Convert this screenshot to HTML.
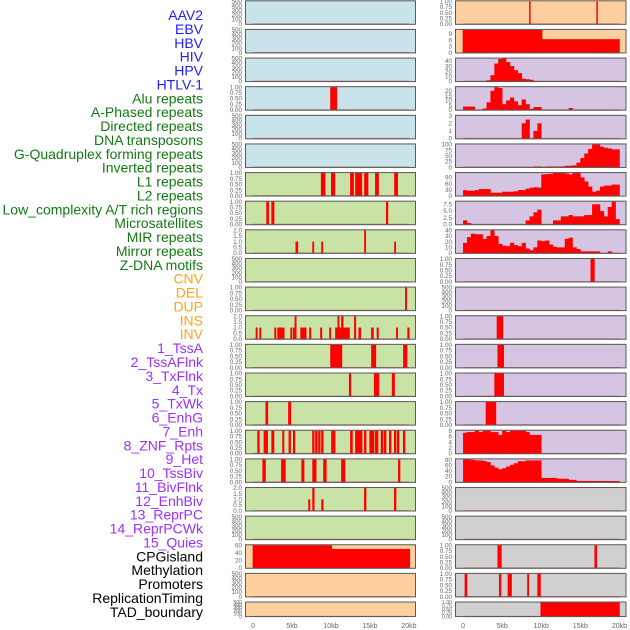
<!DOCTYPE html>
<html><head><meta charset="utf-8"><style>
html,body{margin:0;padding:0;background:#fff;width:630px;height:630px;overflow:hidden}
svg{display:block}
</style></head><body>
<svg id="chart" width="630" height="630" viewBox="0 0 630 630" xmlns="http://www.w3.org/2000/svg"></svg>
<script>
// ---------- data ----------
const labelNames = ["AAV2","EBV","HBV","HIV","HPV","HTLV-1","Alu repeats","A-Phased repeats","Directed repeats","DNA transposons","G-Quadruplex forming repeats","Inverted repeats","L1 repeats","L2 repeats","Low_complexity A/T rich regions","Microsatellites","MIR repeats","Mirror repeats","Z-DNA motifs","CNV","DEL","DUP","INS","INV","1_TssA","2_TssAFlnk","3_TxFlnk","4_Tx","5_TxWk","6_EnhG","7_Enh","8_ZNF_Rpts","9_Het","10_TssBiv","11_BivFlnk","12_EnhBiv","13_ReprPC","14_ReprPCWk","15_Quies","CPGisland","Methylation","Promoters","ReplicationTiming","TAD_boundary"];
const labelGroups = [0,0,0,0,0,0,1,1,1,1,1,1,1,1,1,1,1,1,1,2,2,2,2,2,3,3,3,3,3,3,3,3,3,3,3,3,3,3,3,4,4,4,4,4];
const xTicks = [0,5,10,15,20];
const xTickLabels = ["0","5kb","10kb","15kb","20kb"];
const BIN = 0.5; // kb per bin for binned tracks

// left column tracks (rows 0..21) : segments [startKb, endKb, value]
const leftSegs = [
 [],[],[],
 [[9.9,10.75,1]],
 [],[],
 [[8.7,9.25,1],[10,10.5,1],[12.45,12.9,1],[13.1,13.95,1],[14.25,14.75,1],[15.65,16.1,1],[18.1,18.55,1]],
 [[1.7,2.0,1],[2.35,2.7,1],[17.05,17.3,1]],
 [[5.45,5.75,1],[7.6,7.8,1],[8.75,8.95,1],[14.25,14.45,2],[18.1,18.3,1]],
 [],
 [[19.5,19.7,1]],
 [[0.34,0.55,1],[0.81,1.02,1],[2.73,2.94,1],[3.11,3.5,1],[3.5,4.0,1],[4.78,4.99,1],[5.12,5.33,1],[5.33,5.54,2],[6.06,6.3,1],[6.3,6.82,1],[7.2,7.42,1],[8.61,8.83,1],[9.77,9.98,1],[10.53,10.83,1],[10.83,11.04,2],[11.04,11.3,1],[11.3,11.56,2],[11.56,12.11,1],[12.11,12.37,1],[12.96,13.18,2],[13.52,13.82,1],[15.14,15.44,1],[15.86,16.08,1],[18.34,18.55,1],[19.79,20.04,1]],
 [[9.9,11.4,1],[15.15,15.75,1],[19.25,19.75,1]],
 [[12.3,12.55,1],[15.5,16.15,1],[17.8,18.15,1]],
 [[1.6,1.9,1],[4.5,4.85,1]],
 [[0.55,0.81,1],[1.36,1.88,1],[2.35,2.69,1],[3.75,3.97,1],[4.56,4.82,1],[5.12,5.37,1],[7.59,7.85,1],[7.97,8.23,1],[8.36,8.61,1],[8.74,9.0,1],[10.02,10.53,1],[12.45,12.75,1],[13.09,13.99,1],[14.24,14.5,1],[14.92,15.52,1],[15.65,16.03,1],[16.38,16.67,1],[16.8,17.06,1],[17.44,17.7,1],[18.08,18.34,1],[18.46,18.72,1],[19.23,19.49,1]],
 [[1.2,1.6,1],[3.6,4.15,1],[6.2,6.55,1],[7.6,8.1,1],[9.0,9.4,1],[11.3,11.8,1],[18.6,18.85,1]],
 [[7.08,7.3,1],[7.6,7.85,2],[8.75,9.0,1],[14.24,14.5,2],[18.08,18.34,2]],
 [],
 [[-0.05,10.1,60],[10.1,20.1,50]],
 [],[]
];
const leftTicks = [
 [0,100,200,300,400,500],[0,100,200,300,400,500],[0,100,200,300,400,500],[0,0.25,0.5,0.75,1],
 [0,100,200,300,400,500],[0,100,200,300,400,500],[0,0.25,0.5,0.75,1],[0,0.25,0.5,0.75,1],
 [0,0.5,1,1.5,2],[0,100,200,300,400,500],[0,0.25,0.5,0.75,1],[0,0.5,1,1.5,2],
 [0,0.25,0.5,0.75,1],[0,0.25,0.5,0.75,1],[0,0.25,0.5,0.75,1],[0,0.25,0.5,0.75,1],
 [0,0.25,0.5,0.75,1],[0,0.5,1,1.5,2],[0,100,200,300,400,500],[0,20,40,60],
 [0,100,200,300,400,500],[0,100,200,300,400,500]
];
const leftTickDigits = [0,0,0,2,0,0,2,2,1,0,2,1,2,2,2,2,2,1,0,0,0,0];
const leftBg = [0,0,0,0,0,0,1,1,1,1,1,1,1,1,1,1,1,1,1,2,2,2];

// right column binned series (0.5kb bins from 0 to 20kb)
const hivBins  = [0,0,0,0,0,0,2,12,35,44,45,38,30,22,16,5,4,3,0,0,0,0,0,0,0,0,0,0,0,0,0,0,0,0,0,0,0,0,0,0];
const aluBins  = [3.5,3.5,3.5,0,0,1.5,8,20,24,23,6,10,13,9,5,11,6,1,3,3,0,0,0,0,0,0,0,2,0,0,0,0,0,0,0,0,0,0,0,0];
const dirBins  = [0,0,0,0,0,0,0,0,0,0,0,0,0,0,0,2,2.5,0,1,2,0,0,0,0,0,0,0,0,0,0,0,0,0,0,0,0,0,0,0,0];
const gquadBins= [0,0,0,0,0,0,0,0,0,0,0,0,0,0,0,0,0,0,3,3,0,3,3,3,3,3,6,6,8,20,40,60,80,100,100,90,85,82,78,78];
const l1Bins   = [28,25,25,28,33,33,33,15,15,15,20,20,20,22,28,28,35,40,42,40,105,107,108,112,112,112,110,105,112,112,90,70,45,20,25,45,50,50,55,55];
const lowBins  = [1.5,0.5,0,0,0,0,0,0,0,0,0,0,0,0,0,0,1.5,3,4.5,5.5,0,0,0,1.5,1.5,3,3,3.5,3,3,3,3.5,3.5,7.5,7.5,5,3,6.5,8.5,2];
const mirBins  = [18,28,34,33,33,25,30,40,30,16,13,12,18,14,12,18,8,5,10,22,21,22,15,11,10,10,25,27,10,7,3,3,3,3,3,0,0,3,0,0];
const enhBins  = [7.3,7.5,7.5,8,7.5,8,8,7.5,7.5,6.5,8,7.5,8,8,8,8,7.5,6.5,6.5,6.5,0,0,0,0,0,0,0,0,0,0,0,0,0,0,0,0,0,0,0,0];
const znfBins  = [82,82,80,78,78,76,72,60,52,46,50,56,62,68,75,75,78,78,78,78,15,15,15,15,12,12,12,8,8,4,4,4,4,4,4,4,4,4,4,4];

const rightSegs = [
 [[8.45,8.6,1],[17.05,17.2,1]],
 [[-0.05,10.1,11],[10.1,20,6.5]],
 "hiv","alu","dir","gquad","l1","low","mir",
 [[16.3,16.8,1]],
 [],
 [[4.3,5.1,1]],
 [[4.4,5.2,1]],
 [[4.0,5.2,1]],
 [[2.9,4.2,1]],
 "enh","znf",
 [],[],
 [[4.4,4.9,1],[16.8,17.1,1]],
 [[0.2,0.5,1],[4.6,4.85,1],[5.7,6.2,1],[8.2,8.4,1],[9.5,9.9,1]],
 [[9.9,20,1]]
];
const binSeries = {hiv:hivBins, alu:aluBins, dir:dirBins, gquad:gquadBins, l1:l1Bins, low:lowBins, mir:mirBins, enh:enhBins, znf:znfBins};
const rightTicks = [
 [0,0.25,0.5,0.75,1],[0,3,6,9],[0,10,20,30,40],[0,5,10,15,20],
 [0,1,2,3],[0,25,50,75,100],[0,30,60,90],[0,2.5,5,7.5],
 [0,10,20,30,40],[0,0.25,0.5,0.75,1],[0,100,200,300,400,500],[0,0.25,0.5,0.75,1],
 [0,0.25,0.5,0.75,1],[0,0.25,0.5,0.75,1],[0,0.25,0.5,0.75,1],[0,2,4,6,8],
 [0,20,40,60,80],[0,100,200,300,400,500],[0,100,200,300,400,500],[0,0.25,0.5,0.75,1],
 [0,0.25,0.5,0.75,1],[0,0.25,0.5,0.75,1]
];
const rightTickDigits = [2,0,0,0,0,0,0,1,0,2,0,2,2,2,2,0,0,0,0,2,2,2];
const rightBg = [2,2,3,3,3,3,3,3,3,3,3,3,3,3,3,3,3,4,4,4,4,4];

// ---------- styling / layout ----------
const groupColors = ["#2020ff","#137a13","#ffa31a","#9b30ff","#000000"];
const bgColors = ["#c8e3ea","#c9e2a6","#ffd09f","#d5c5e2","#d0d0d0"];
const NS = "http://www.w3.org/2000/svg";
const svg = document.getElementById("chart");
function mk(tag, attrs, parent){const e=document.createElementNS(NS,tag);for(const k in attrs)e.setAttribute(k,attrs[k]);(parent||svg).appendChild(e);return e;}

labelNames.forEach((name,i)=>{
  const t = mk("text",{x:203,y:20+i*13.88,"text-anchor":"end","font-family":"Liberation Sans, sans-serif","font-size":"14",fill:groupColors[labelGroups[i]]});
  t.textContent = name;
  
  
});

const ROW0 = 0.3, PITCH = 28.63, PH = 24.5, LAST_PH = 15.5;
const cols = [{x0:245,x1:416,segs:leftSegs,ticks:leftTicks,dig:leftTickDigits,bg:leftBg,name:'left'},
              {x0:455,x1:626.5,segs:rightSegs,ticks:rightTicks,dig:rightTickDigits,bg:rightBg,name:'right'}];
const XMIN=-1.03, XMAX=20.9;

cols.forEach(col=>{
  const xs = kb => col.x0 + (kb - XMIN)/(XMAX - XMIN)*(col.x1 - col.x0);
  for(let r=0;r<22;r++){
    const top = ROW0 + r*PITCH;
    const ph = r===21 ? LAST_PH : PH;
    const bot = top + ph;
    const g = mk("g",{});
    
    
    mk("rect",{x:col.x0,y:top,width:col.x1-col.x0,height:ph,fill:bgColors[col.bg[r]]},g);
    let segs = col.segs[r];
    if(typeof segs === "string"){
      const arr = binSeries[segs];
      segs = arr.map((v,i)=>[i*BIN,(i+1)*BIN,v]);
    }
    const ticks = col.ticks[r];
    const dmax = Math.max(ticks[ticks.length-1], ...segs.map(s=>s[2]), 0);
    const ymax = dmax*1.04, ymin = -dmax*0.035;
    const ys = v => bot - (v - ymin)/(ymax - ymin)*ph;
    mk("line",{x1:xs(0),x2:xs(20),y1:ys(0),y2:ys(0),stroke:"#c85050","stroke-width":1.2,"stroke-opacity":0.7},g);
    segs.forEach(s=>{
      if(s[2]<=0) return;
      const b = mk("rect",{x:xs(s[0]),y:ys(s[2]),width:Math.max(0.8,xs(s[1])-xs(s[0])+0.3),height:ys(0)-ys(s[2]),fill:"#ff0000"},g);
      
      
    });
    mk("rect",{x:col.x0+0.5,y:top+0.5,width:col.x1-col.x0-1,height:ph-1,fill:"none",stroke:"#5a5a5a","stroke-width":1},g);
    const fs = r===21 ? 5.2 : 6.3;
    ticks.forEach(tv=>{
      const t = mk("text",{x:col.x0-3,y:ys(tv)+fs*0.35,"text-anchor":"end","font-family":"Liberation Sans, sans-serif","font-size":fs,fill:"#666"},g);
      t.textContent = tv.toFixed(col.dig[r]);
      
      
    });
  }
  xTicks.forEach((kb,i)=>{
    const t = mk("text",{x:xs(kb),y:628,"text-anchor":"middle","font-family":"Liberation Sans, sans-serif","font-size":"7",fill:"#666"});
    t.textContent = xTickLabels[i];
    
    
  });
});
</script>
</body></html>
